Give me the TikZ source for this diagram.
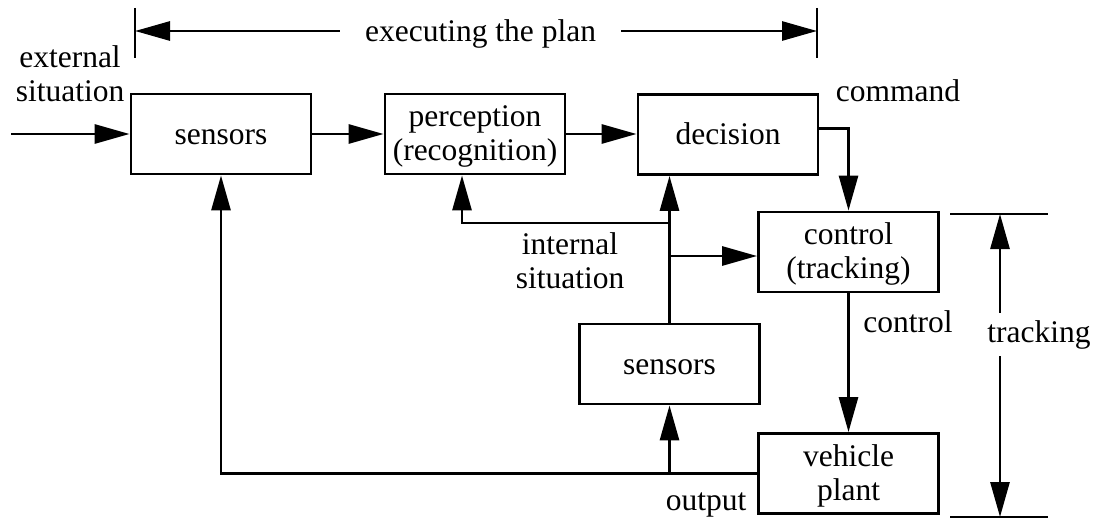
\documentclass[tikz,border=0pt]{standalone}
\usepackage{fontspec}
\setmainfont{Liberation Serif}
\usetikzlibrary{arrows.meta}
\begin{document}
\begin{tikzpicture}[x=1pt,y=-1pt,
  every node/.style={font=\fontsize{31.5}{34}\selectfont},
  box/.style={draw, line width=2.8pt, minimum width=180pt, minimum height=80pt, inner sep=0pt, align=center},
  onebox/.style={box, text height=22pt, text depth=2pt},
  conn/.style={line width=2.8pt},
  arr/.style={conn, -{Triangle[length=35pt,width=19pt]}},
  lbl/.style={inner sep=0pt, align=center}]
\useasboundingbox (0,0) rectangle (1096,519);

% boxes
\node[onebox] (sensA) at (221,134) {sensors};
\node[box] (perc)  at (475,134) {\rule{0pt}{26pt}perception\\(recognition)};
\node[onebox] (dec)   at (728,134.5) {decision};
\node[box] (ctrl)  at (848.5,252) {\rule{0pt}{26pt}control\\(tracking)};
\node[onebox] (sensB) at (669.5,364) {sensors};
\node[box] (veh)   at (848.5,473.5) {\rule{0pt}{26pt}vehicle\\plant};

% labels
\node[lbl] (ext) at (70,74) {external\\situation};
\node[lbl] (int) at (570,261) {internal\\situation};
\node[lbl, anchor=base] (cmd) at (898,102) {command};
\node[lbl, anchor=base] (lctl) at (908,332) {control};
\node[lbl, anchor=base] (out) at (706,510) {output};
\node[lbl, anchor=base, inner xsep=25pt] (exec) at (480.5,41.7) {executing the plan};
\node[lbl, anchor=base, inner ysep=7pt] (trk) at (1039,342) {tracking};

% free coordinates
\coordinate (in) at (11,134);
\coordinate (tickA1) at (135,8);
\coordinate (tickA2) at (135,58);
\coordinate (tickB1) at (817,8);
\coordinate (tickB2) at (817,58);
\coordinate (ea) at (135,31);
\coordinate (eb) at (817,31);
\coordinate (j1) at (669.5,223);
\coordinate (j2) at (669.5,256);
\coordinate (tT) at (1000,214);
\coordinate (tB) at (1000,517);
\coordinate (tTl) at (950,214);
\coordinate (tTr) at (1048,214);
\coordinate (tBl) at (950,517);
\coordinate (tBr) at (1048,517);

% top bracket
\draw[conn] (tickA1) -- (tickA2);
\draw[conn] (tickB1) -- (tickB2);
\draw[arr] (exec.west |- ea) -- (ea);
\draw[arr] (exec.east |- eb) -- (eb);

% tracking bracket
\draw[conn] (tTl) -- (tTr);
\draw[conn] (tBl) -- (tBr);
\draw[arr] (tT |- trk.north) -- (tT);
\draw[arr] (tB |- trk.south) -- (tB);

% connectors
\draw[arr] (in) -- (sensA.west);
\draw[arr] (sensA.east) -- (perc.west);
\draw[arr] (perc.east) -- (perc.east -| dec.west);
\draw[arr] ([yshift=6pt]dec.east) -| (ctrl.north);
\draw[arr] (ctrl.south) -- (veh.north);
\draw[arr] (veh.west) -| (sensA.south);
\draw[arr] (veh.west -| sensB.south) -- (sensB.south);
\draw[arr] (sensB.north) -- (sensB.north |- dec.south);
\draw[arr] (j1) -| ([xshift=-13pt]perc.south);
\draw[arr] (j2) -- (j2 -| ctrl.west);
\end{tikzpicture}
\end{document}
